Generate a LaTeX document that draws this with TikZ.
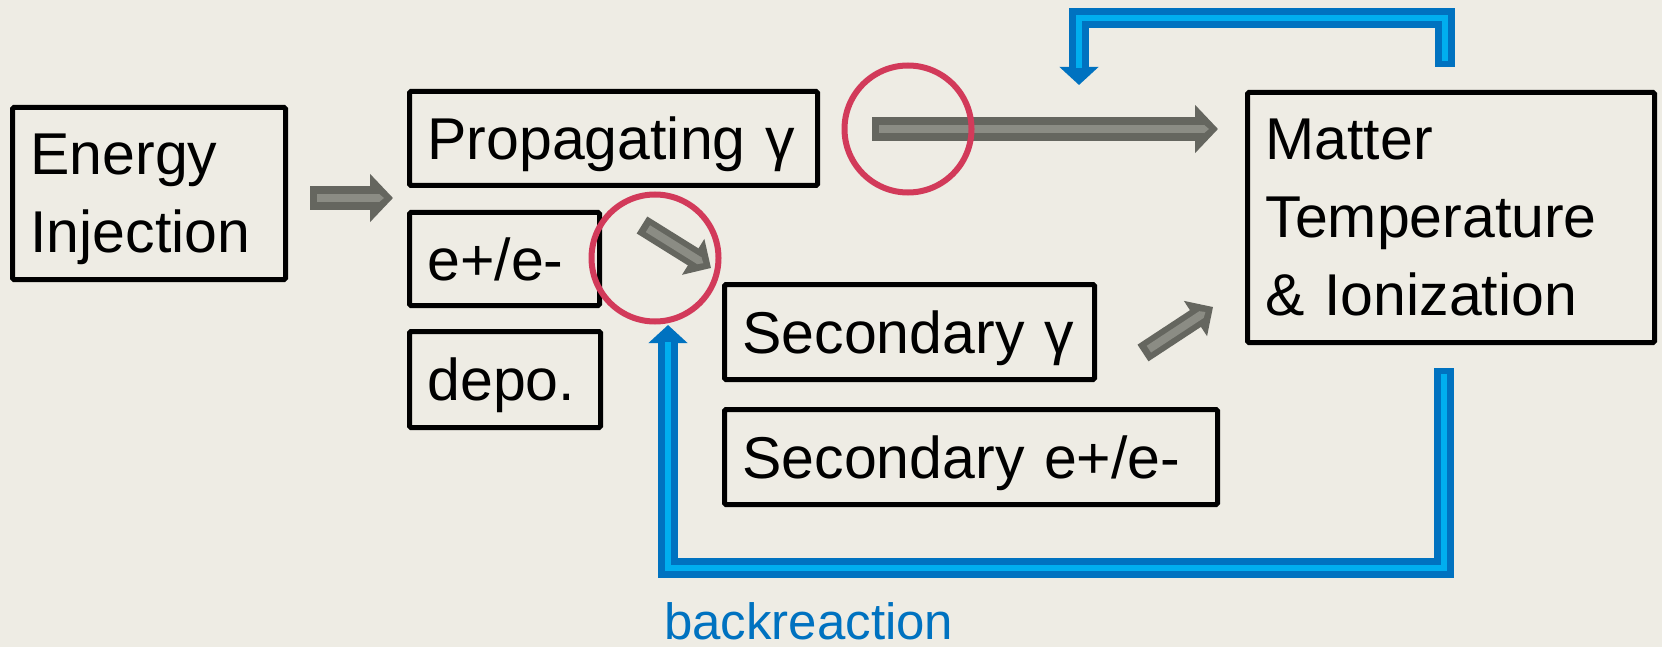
\documentclass[tikz,border=0pt]{standalone}
\usepackage{fontspec}
\setmainfont{Liberation Sans}
\usetikzlibrary{arrows.meta}

\definecolor{bgpaper}{RGB}{238,236,228}
\definecolor{arrdark}{RGB}{101,102,95}
\definecolor{arrlight}{RGB}{139,140,132}
\definecolor{ringred}{RGB}{210,58,90}
\definecolor{fbdark}{RGB}{0,114,192}
\definecolor{fblight}{RGB}{0,174,239}

\tikzset{
    stage/.style={draw, line width=5pt, rounded corners=1.5pt, inner xsep=18pt, inner ysep=0pt,
        text depth=0pt, align=left, font=\fontsize{59}{78}\selectfont},
    flow/.style={draw=arrdark, line width=24pt, -{Triangle[width=47pt,length=23pt]}},
    flowsmall/.style={draw=arrdark, line width=20pt, -{Triangle[width=41pt,length=21pt]}},
    flowcore/.style={draw=arrlight, line width=8pt, shorten <=7pt, shorten >=9pt,
        -{Triangle[width=8pt,length=5pt]}},
    ring/.style={circle, draw=ringred, line width=6pt, minimum size=127pt, inner sep=0pt},
    feedback/.style={draw=fbdark, line width=20pt, line join=miter, -{Triangle[width=38pt,length=18pt]}},
    feedcore/.style={draw=fblight, line width=6pt, line join=miter, shorten <=6pt, shorten >=17pt},
}

\begin{document}
\begin{tikzpicture}[x=1pt, y=-1pt]
    \fill[bgpaper] (0,0) rectangle (1662,647);
    \useasboundingbox (0,0) rectangle (1662,647);

    % stages
    \node[stage, text width=237pt, minimum height=172pt, text depth=78pt] (inj) at (149,193.5) {Energy\\Injection};
    \node[stage, text width=372pt, minimum height=94pt] (prop) at (613.5,138.5) {Propagating γ};
    \node[stage, text width=154pt, minimum height=93pt] (epm) at (504.5,259) {e+/e-};
    \node[stage, text width=155pt, minimum height=96pt] (depo) at (505,379.5) {depo.};
    \node[stage, text width=334pt, minimum height=95pt] (secg) at (909.5,332) {Secondary γ};
    \node[stage, text width=457pt, minimum height=95pt] (sece) at (971,457) {Secondary e+/e-};
    \node[stage, text width=371pt, minimum height=250pt, text depth=156pt] (matter) at (1451,217.5) {Matter\\Temperature\\\& Ionization};

    % gray flow arrows
    \coordinate (injout) at (310,198);
    \coordinate (splitin) at (393,198);
    \coordinate (propout) at (872,129);
    \coordinate (matterin) at (1218,129);
    \coordinate (epmout) at (642,225);
    \coordinate (secgin) at (711,268);
    \coordinate (secgout) at (1143,353);
    \coordinate (matterin2) at (1213,307);

    \draw[flow] (injout) -- (splitin);
    \draw[flowcore] (injout) -- (splitin);
    \draw[flow] (propout) -- (matterin);
    \draw[flowcore] (propout) -- (matterin);
    \draw[flowsmall] (epmout) -- (secgin);
    \draw[flowcore] (epmout) -- (secgin);
    \draw[flowsmall] (secgout) -- (matterin2);
    \draw[flowcore] (secgout) -- (matterin2);

    % highlights
    \node[ring] (ringprop) at (908,129) {};
    \node[ring] (ringepm) at (655,258) {};

    % feedback loops
    \coordinate (topstart) at ([xshift=-6pt,yshift=23pt]matter.north);
    \coordinate (toptip) at (1079,85);
    \draw[feedback] (topstart) -- ++(0,-49) -| (toptip);
    \draw[feedcore] (topstart) -- ++(0,-49) -| (toptip);

    \coordinate (botstart) at ([xshift=-7pt,yshift=-23pt]matter.south);
    \coordinate (bottip) at (668,325);
    \draw[feedback] (botstart) -- ++(0,200) -| (bottip);
    \draw[feedcore] (botstart) -- ++(0,200) -| (bottip);

    \node[anchor=base west, inner sep=0pt, text=fbdark, font=\fontsize{51}{60}\selectfont] (brlabel)
        at (664,639) {backreaction};
\end{tikzpicture}
\end{document}
